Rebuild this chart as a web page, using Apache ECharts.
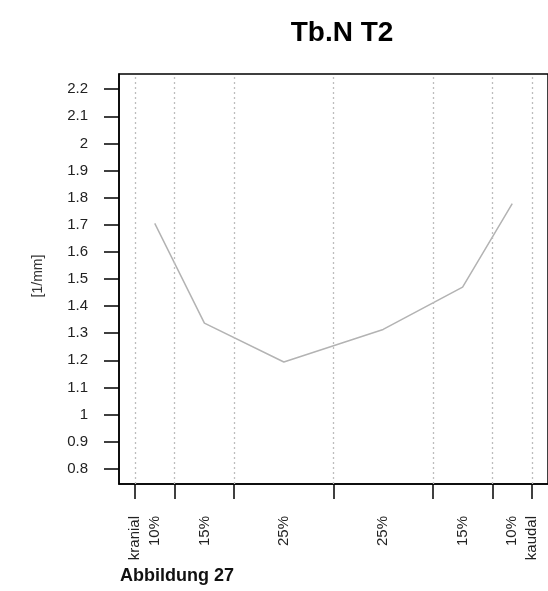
<!DOCTYPE html>
<html>
<head>
<meta charset="utf-8">
<script src="https://cdn.jsdelivr.net/npm/echarts@6/dist/echarts.min.js"></script>
<style>
  html, body { margin: 0; padding: 0; background: #fff; }
  #chart { width: 548px; height: 591px; }
</style>
</head>
<body>
<div id="chart"></div>
<script>
// Section boundaries along the bone (cumulative percent, kranial -> kaudal)
const sectionTicks = [0, 10, 25, 50, 75, 90, 100];
// Label positions and their texts (section midpoints plus the two ends)
const sectionLabelPos = [0, 5, 17.5, 37.5, 62.5, 82.5, 95, 100];
const sectionLabels = ['kranial', '10%', '15%', '25%', '25%', '15%', '10%', 'kaudal'];
// Tb.N per section, measured at section midpoints
const sectionMid = [5, 17.5, 37.5, 62.5, 82.5, 95];
const tbN = [1.705, 1.337, 1.194, 1.314, 1.47, 1.778];
// y axis ticks
const yTicks = [0.8, 0.9, 1, 1.1, 1.2, 1.3, 1.4, 1.5, 1.6, 1.7, 1.8, 1.9, 2, 2.1, 2.2];
const yTickLabels = ['0.8', '0.9', '1', '1.1', '1.2', '1.3', '1.4', '1.5', '1.6', '1.7', '1.8', '1.9', '2', '2.1', '2.2'];

const font = 'Liberation Sans, Arial, sans-serif';
const chart = echarts.init(document.getElementById('chart'), null, { renderer: 'canvas' });

chart.setOption({
  animation: false,
  backgroundColor: '#fff',
  title: {
    text: 'Tb.N T2',
    left: 337,
    top: 14,
    textAlign: 'center',
    textStyle: { fontFamily: font, fontSize: 28, fontWeight: 'bold', color: '#000' }
  },
  grid: {
    show: true,
    left: 119, top: 74, width: 432, height: 410,
    borderColor: '#000', borderWidth: 1.5,
    containLabel: false
  },
  xAxis: {
    type: 'value',
    min: -4, max: 104,
    axisLine: { show: true, onZero: false, lineStyle: { color: '#000', width: 1.5 } },
    axisTick: { show: true, customValues: sectionTicks, length: 15, lineStyle: { color: '#000', width: 1.5 } },
    axisLabel: {
      show: true,
      customValues: sectionLabelPos,
      rotate: 90,
      margin: 32,
      fontFamily: font, fontSize: 15, color: '#222',
      formatter: (v) => sectionLabels[sectionLabelPos.indexOf(v)]
    },
    splitLine: { show: false }
  },
  yAxis: {
    type: 'value',
    min: 0.744, max: 2.256,
    axisLine: { show: true, onZero: false, lineStyle: { color: '#000', width: 1.5 } },
    axisTick: { show: true, customValues: yTicks, length: 15, lineStyle: { color: '#000', width: 1.5 } },
    axisLabel: {
      show: true,
      customValues: yTicks,
      margin: 31,
      fontFamily: font, fontSize: 15, color: '#222',
      formatter: (v) => yTickLabels[yTicks.indexOf(v)]
    },
    splitLine: { show: false }
  },
  graphic: [
    {
      type: 'text',
      x: 38, y: 276,
      rotation: Math.PI / 2,
      style: {
        text: '[1/mm]',
        font: '14px ' + font,
        fill: '#333',
        align: 'center',
        verticalAlign: 'middle'
      }
    },
    {
      type: 'text',
      x: 120, y: 576,
      style: {
        text: 'Abbildung 27',
        font: 'bold 18px ' + font,
        fill: '#111',
        align: 'left',
        verticalAlign: 'middle'
      }
    }
  ],
  series: [
    {
      type: 'line',
      data: sectionMid.map((x, i) => [x, tbN[i]]),
      showSymbol: false,
      symbol: 'none',
      lineStyle: { color: '#b3b3b3', width: 1.5 },
      z: 3,
      markLine: {
        silent: true,
        symbol: 'none',
        label: { show: false },
        lineStyle: { color: '#bdbdbd', type: [2, 3], width: 1.3 },
        data: sectionTicks.map((t) => ({ xAxis: t }))
      }
    }
  ]
});
</script>
</body>
</html>
